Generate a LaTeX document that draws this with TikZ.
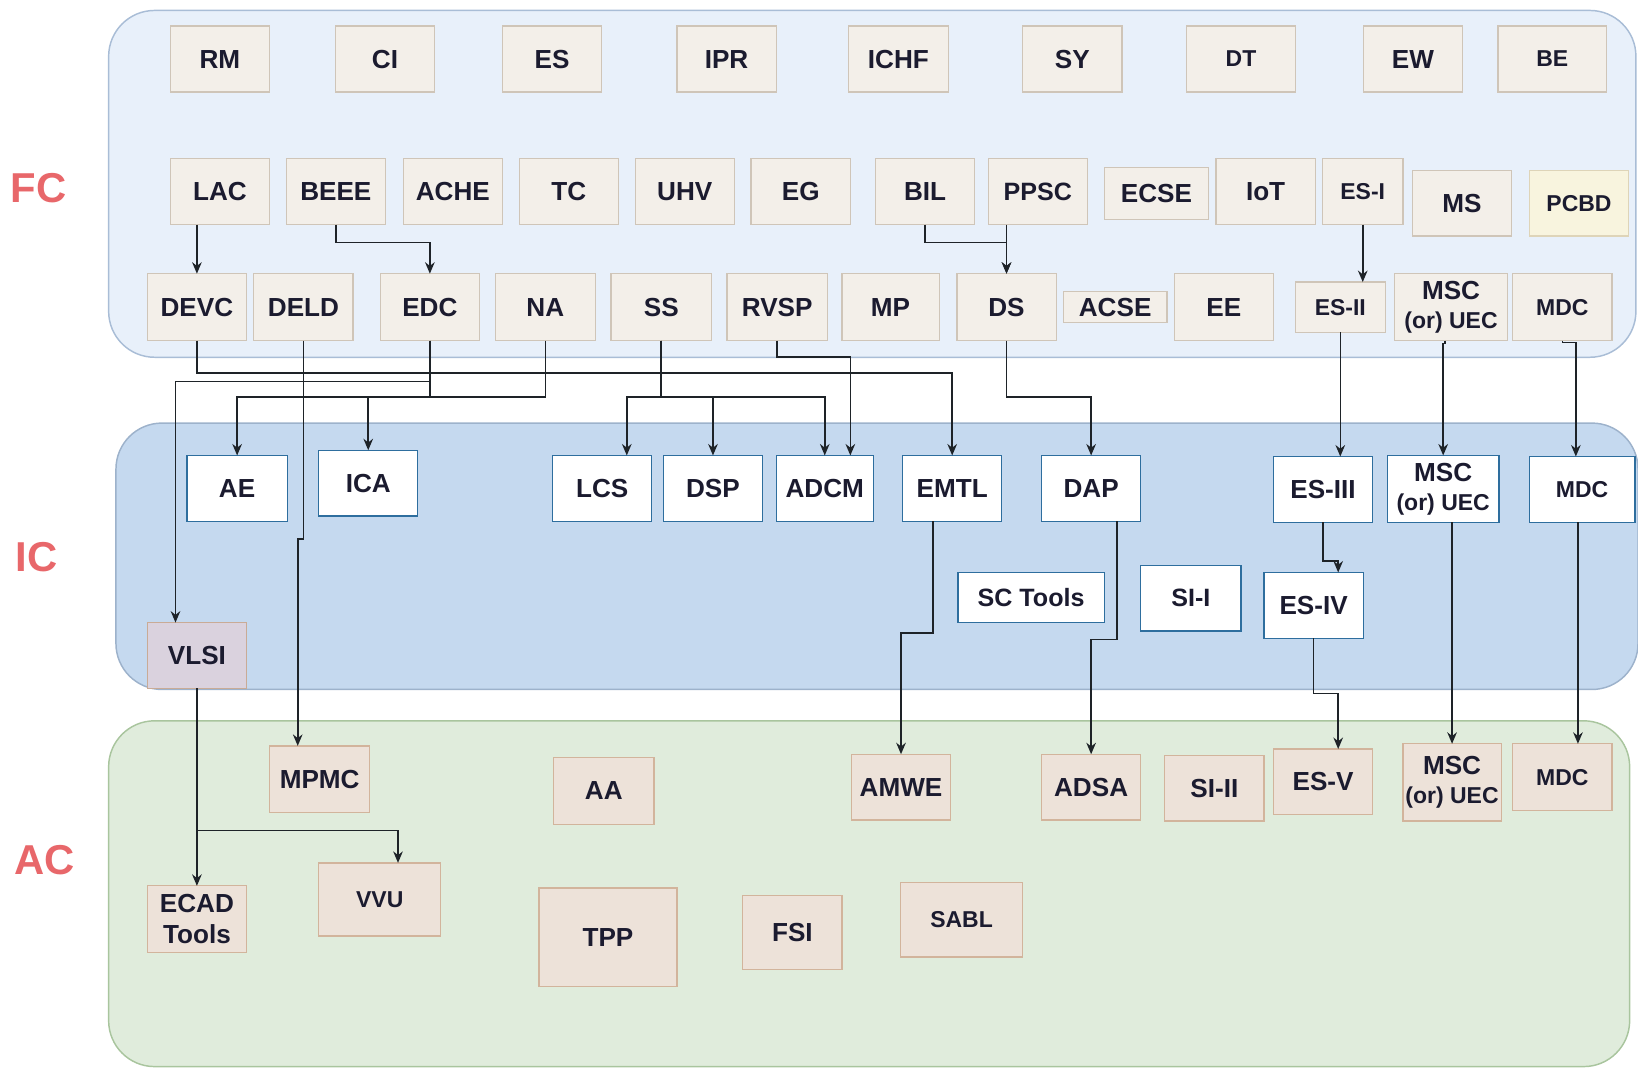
\documentclass[tikz,border=0pt]{standalone}
\usepackage{fontspec}
\setmainfont{Liberation Sans}
\usetikzlibrary{arrows.meta}
\definecolor{fcpanel}{HTML}{E8F0FA}
\definecolor{fcpaneld}{HTML}{A9BDD6}
\definecolor{icpanel}{HTML}{C5D9EF}
\definecolor{icpaneld}{HTML}{9DB2CB}
\definecolor{acpanel}{HTML}{E0ECDC}
\definecolor{acpaneld}{HTML}{A9C59E}
\definecolor{fcfill}{HTML}{F3EFE9}
\definecolor{fcdraw}{HTML}{CFC5B8}
\definecolor{acfill}{HTML}{EDE2D9}
\definecolor{acdraw}{HTML}{D2B49C}
\definecolor{icdraw}{HTML}{2E6E9E}
\definecolor{vlsifill}{HTML}{DAD2DE}
\definecolor{vlsidraw}{HTML}{C9AB96}
\definecolor{pcbdfill}{HTML}{F8F4DE}
\definecolor{pcbddraw}{HTML}{DED4B8}
\definecolor{lblred}{HTML}{E8676A}
\definecolor{txt}{HTML}{1B1B2F}
\definecolor{wire}{HTML}{1E2328}
\newcommand\mybox[7]{\node[#1,minimum width={(#5-#3)*0.5pt},minimum height={(#6-#4)*0.5pt}] (#2) at ({(#3+#5)/2},{(#4+#6)/2}) {#7};}
\begin{document}
\begin{tikzpicture}[x=0.5pt,y=-0.5pt,
  base/.style={inner sep=0pt,outer sep=0pt,line width=0.6pt,text=txt,align=center,
    font=\bfseries\fontsize{12.5}{15}\selectfont},
  fcb/.style={base,fill=fcfill,draw=fcdraw},
  acb/.style={base,fill=acfill,draw=acdraw},
  icb/.style={base,fill=white,draw=icdraw},
  vlsib/.style={base,fill=vlsifill,draw=vlsidraw},
  pcbdb/.style={base,fill=pcbdfill,draw=pcbddraw},
  sm/.style={font=\bfseries\fontsize{11}{13}\selectfont},
  md/.style={font=\bfseries\fontsize{12}{14}\selectfont},
  lbl/.style={text=lblred,font=\bfseries\fontsize{20}{24}\selectfont},
  arr/.style={draw=wire,line width=0.75pt,-{Stealth[length=5.5pt,width=4.6pt]}},
  panel/.style={line width=0.7pt,rounded corners=22pt}]
\useasboundingbox (0,0) rectangle (1568,1022);
% panels
\path[panel,fill=fcpanel,draw=fcpaneld] (104,10) rectangle (1566,342);
\path[panel,fill=icpanel,draw=icpaneld] (111,405) rectangle (1568,660);
\path[panel,fill=acpanel,draw=acpaneld] (104,690) rectangle (1560,1021);
% labels
\node[lbl] (lFC) at (37,180) {FC};
\node[lbl] (lIC) at (35,533) {IC};
\node[lbl] (lAC) at (43,823) {AC};
% FC row 1
\mybox{fcb}{RM}{163}{25}{258}{88}{RM}
\mybox{fcb}{CI}{321}{25}{416}{88}{CI}
\mybox{fcb}{ES}{481}{25}{576}{88}{ES}
\mybox{fcb}{IPR}{648}{25}{743}{88}{IPR}
\mybox{fcb}{ICHF}{812}{25}{908}{88}{ICHF}
\mybox{fcb}{SY}{979}{25}{1074}{88}{SY}
\mybox{fcb,sm}{DT}{1136}{25}{1240}{88}{DT}
\mybox{fcb}{EW}{1305}{25}{1400}{88}{EW}
\mybox{fcb,sm}{BE}{1434}{25}{1538}{88}{BE}
% FC row 2
\mybox{fcb}{LAC}{163}{152}{258}{215}{LAC}
\mybox{fcb}{BEEE}{274}{152}{369}{215}{BEEE}
\mybox{fcb}{ACHE}{386}{152}{481}{215}{ACHE}
\mybox{fcb}{TC}{497}{152}{592}{215}{TC}
\mybox{fcb}{UHV}{608}{152}{703}{215}{UHV}
\mybox{fcb}{EG}{719}{152}{814}{215}{EG}
\mybox{fcb}{BIL}{838}{152}{933}{215}{BIL}
\mybox{fcb,md}{PPSC}{946}{152}{1041}{215}{PPSC}
\mybox{fcb}{ECSE}{1057}{160}{1157}{210}{ECSE}
\mybox{fcb}{IoT}{1164}{152}{1259}{215}{IoT}
\mybox{fcb,sm}{ESI}{1266}{152}{1343}{215}{ES-I}
\mybox{fcb}{MS}{1352}{163}{1447}{226}{MS}
\mybox{pcbdb,sm}{PCBD}{1464}{163}{1559}{226}{PCBD}
% FC row 3
\mybox{fcb}{DEVC}{141}{262}{236}{326}{DEVC}
\mybox{fcb}{DELD}{243}{262}{338}{326}{DELD}
\mybox{fcb}{EDC}{364}{262}{459}{326}{EDC}
\mybox{fcb}{NA}{474}{262}{570}{326}{NA}
\mybox{fcb}{SS}{585}{262}{681}{326}{SS}
\mybox{fcb}{RVSP}{696}{262}{792}{326}{RVSP}
\mybox{fcb}{MP}{806}{262}{899}{326}{MP}
\mybox{fcb}{DS}{916}{262}{1011}{326}{DS}
\mybox{fcb}{ACSE}{1018}{279}{1117}{309}{ACSE}
\mybox{fcb}{EE}{1124}{262}{1219}{326}{EE}
\mybox{fcb,sm}{ESII}{1240}{270}{1326}{318}{ES-II}
\mybox{fcb}{MSCa}{1335}{262}{1443}{326}{MSC\\[-1pt]{\fontsize{11}{13}\selectfont (or) UEC}}
\mybox{fcb,sm}{MDCa}{1448}{262}{1543}{326}{MDC}
% IC
\mybox{icb}{AE}{179}{436}{275}{499}{AE}
\mybox{icb}{ICA}{305}{431}{400}{494}{ICA}
\mybox{icb}{LCS}{529}{436}{624}{499}{LCS}
\mybox{icb}{DSP}{635}{436}{730}{499}{DSP}
\mybox{icb}{ADCM}{743}{436}{836}{499}{ADCM}
\mybox{icb}{EMTL}{864}{436}{959}{499}{EMTL}
\mybox{icb}{DAP}{997}{436}{1092}{499}{DAP}
\mybox{icb}{ESIII}{1219}{437}{1314}{500}{ES-III}
\mybox{icb}{MSCb}{1328}{436}{1435}{500}{MSC\\[-1pt]{\fontsize{11}{13}\selectfont (or) UEC}}
\mybox{icb,sm}{MDCb}{1464}{437}{1565}{500}{MDC}
\mybox{icb,md}{SCT}{917}{548}{1057}{596}{SC Tools}
\mybox{icb,md}{SII}{1092}{541}{1188}{604}{SI-I}
\mybox{icb}{ESIV}{1210}{548}{1305}{611}{ES-IV}
\mybox{vlsib}{VLSI}{141}{596}{236}{659}{VLSI}
% AC
\mybox{acb}{MPMC}{258}{714}{354}{778}{MPMC}
\mybox{acb}{AA}{530}{725}{626}{789}{AA}
\mybox{acb}{AMWE}{815}{722}{910}{785}{AMWE}
\mybox{acb}{ADSA}{997}{722}{1092}{785}{ADSA}
\mybox{acb}{SIII}{1115}{723}{1210}{786}{SI-II}
\mybox{acb}{ESV}{1219}{717}{1314}{780}{ES-V}
\mybox{acb}{MSCc}{1343}{712}{1437}{786}{MSC\\[-1pt]{\fontsize{11}{13}\selectfont (or) UEC}}
\mybox{acb,sm}{MDCc}{1448}{712}{1543}{776}{MDC}
\mybox{acb}{ECAD}{141}{848}{236}{912}{ECAD\\Tools}
\mybox{acb,sm}{VVU}{305}{826}{422}{896}{VVU}
\mybox{acb}{TPP}{516}{850}{648}{944}{TPP}
\mybox{acb}{FSI}{711}{857}{806}{928}{FSI}
\mybox{acb,sm}{SABL}{862}{845}{979}{916}{SABL}
% connectors inside FC
\draw[arr] (DEVC.north |- LAC.south) -- (DEVC.north);
\draw[arr] (BEEE.south) -- ++(0,17) -| (EDC.north);
\draw[arr] (DS.north |- PPSC.south) -- (DS.north);
\draw[arr] (BIL.south) -- ++(0,17) -| (DS.north);
\draw[arr] (ESI.south) -- (ESI.south |- ESII.north);
% FC -> IC
\draw[arr] (DEVC.south) -- ++(0,31) -| (EMTL.north);
\draw[arr] (DELD.south) -- ++(0,190) -| ([xshift=-10.5pt]MPMC.north);
\draw[arr] (EDC.south) -- ++(0,39) -| ([xshift=-10.25pt]VLSI.north);
\draw[arr] (EDC.south) -- ++(0,54) -| (AE.north);
\draw[arr] (NA.south) -- ++(0,54) -| (ICA.north);
\draw[arr] (SS.south) -- ++(0,54) -| ([xshift=11.75pt]LCS.north);
\draw[arr] (SS.south) -- ++(0,54) -| (DSP.north);
\draw[arr] (SS.south) -- ++(0,54) -| (ADCM.north);
\draw[arr] (RVSP.south) -- ++(0,16) -| ([xshift=12.25pt]ADCM.north);
\draw[arr] (DS.south) -- ++(0,54) -| (DAP.north);
\draw[arr] (ESII.south) -- (ESII.south |- ESIII.north);
\draw[arr] ([xshift=-3pt]MSCa.south) -- ++(0,3) -| (MSCb.north);
\draw[arr] (MDCa.south) -- ++(0,2) -| ([xshift=-3pt]MDCb.north);
% IC internal and IC -> AC
\draw[arr] (ESIII.south) -- ++(0,37) -| ([xshift=11.75pt]ESIV.north);
\draw[arr] ([xshift=-9.25pt]EMTL.south) -- ++(0,107) -| (AMWE.north);
\draw[arr] ([xshift=12.25pt]DAP.south) -- ++(0,113) -| (ADSA.north);
\draw[arr] (ESIV.south) -- ++(0,53) -| ([xshift=7.25pt]ESV.north);
\draw[arr] (MSCc.north |- MSCb.south) -- (MSCc.north);
\draw[arr] ([xshift=-2pt]MDCb.south) -- ([xshift=-2pt]MDCb.south |- MDCc.north);
\draw[arr] (VLSI.south) -- (ECAD.north);
\draw[arr] (VLSI.south) -- ++(0,136) -| ([xshift=8.75pt]VVU.north);
\end{tikzpicture}
\end{document}
